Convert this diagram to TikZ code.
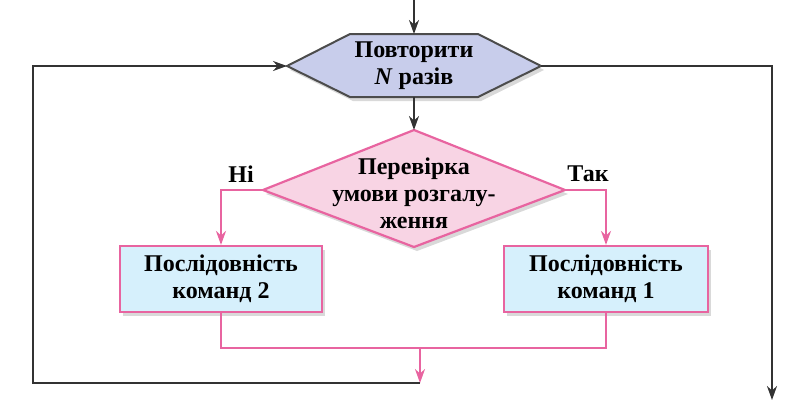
\documentclass[tikz,border=0pt]{standalone}
\usepackage{fontspec}
\setmainfont{Liberation Serif}
\usetikzlibrary{arrows.meta,shadows}
\definecolor{hexfill}{RGB}{200,205,235}
\definecolor{pinkline}{RGB}{232,100,160}
\definecolor{diafill}{RGB}{248,212,228}
\definecolor{boxfill}{RGB}{214,240,252}
\tikzset{
 blk/.style={draw=black!80,line width=2pt,-{Stealth[length=14pt,width=10pt]}},
 pnk/.style={draw=pinkline,line width=2.2pt,-{Stealth[length=14pt,width=10pt]}},
 pnkl/.style={draw=pinkline,line width=2.2pt},
 lbl/.style={font=\fontsize{24}{27}\selectfont\bfseries,align=center},
 shd/.style={drop shadow={shadow xshift=3pt,shadow yshift=-4pt,opacity=0.3}}
}
\begin{document}
\begin{tikzpicture}[x=1pt,y=-1pt]
\useasboundingbox (0,0) rectangle (796,405);
% hexagon
\path[draw=black!70,fill=hexfill,line width=2pt,shd] (287,66) -- (350,34) -- (478,34) -- (541,66) -- (478,97) -- (350,97) -- cycle;
\node[lbl] (hex) at (414,66) {Повторити\\\textit{N} разів};
\coordinate (hl) at (287,66); \coordinate (hr) at (541,66);
\coordinate (ht) at (414,34); \coordinate (hb) at (414,97);
% diamond
\path[draw=pinkline,fill=diafill,line width=2.2pt,shd] (414,130) -- (565,190) -- (414,247) -- (263,190) -- cycle;
\node[lbl] (dia) at (414,193) {Перевірка\\умови розгалу-\\ження};
\coordinate (dt) at (414,130); \coordinate (dl) at (263,190); \coordinate (dr) at (565,190);
% boxes
\node[lbl,draw=pinkline,fill=boxfill,line width=2.2pt,minimum width=202pt,minimum height=66pt,shd] (b2) at (221,279) {Послідовність\\команд 2};
\node[lbl,draw=pinkline,fill=boxfill,line width=2.2pt,minimum width=204pt,minimum height=66pt,shd] (b1) at (606,279) {Послідовність\\команд 1};
\node[lbl] (ni) at (241,174) {Ні};
\node[lbl] (tak) at (588,174) {Так};
\coordinate (top) at (414,0);
\coordinate (j) at (420,348);
\coordinate (jb) at (420,383);
\coordinate (ll) at (33,383);
\coordinate (lt) at (33,66);
\coordinate (rt) at (772,66);
\coordinate (rb) at (772,400);
% connectors
\draw[blk] (top) -- (ht);
\draw[blk] (hb) -- (dt);
\draw[pnk] (dl) -| (b2.north);
\draw[pnk] (dr) -| (b1.north);
\draw[pnkl] (b2.south) |- (j);
\draw[pnkl] (b1.south) |- (j);
\draw[pnk] (j) -- (jb);
\draw[blk] (jb) -- (ll) -- (lt) -- (hl);
\draw[blk] (hr) -- (rt) -- (rb);
\end{tikzpicture}
\end{document}
